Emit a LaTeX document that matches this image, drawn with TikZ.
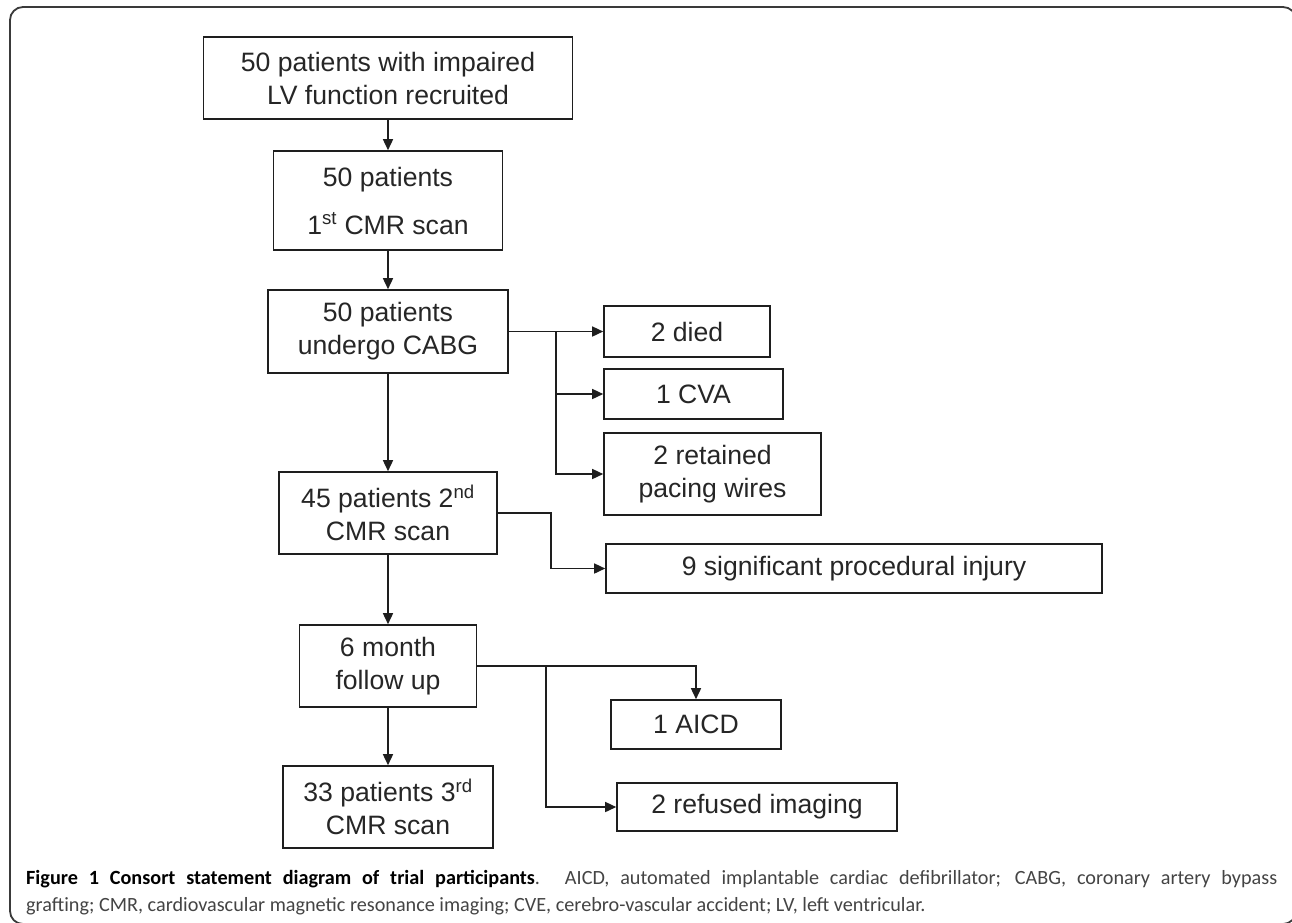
\documentclass[tikz,border=0pt]{standalone}
\usepackage{fontspec}
\setmainfont{Liberation Sans}
\newfontfamily\capfont{Carlito}
\usetikzlibrary{arrows.meta}
\definecolor{lineblk}{HTML}{1E1E1E}
\definecolor{framegray}{HTML}{3A3A3A}
\definecolor{capgray}{HTML}{444444}
\definecolor{boxtext}{HTML}{262626}
\tikzset{
  box/.style={draw=lineblk, line width=1.6pt, rectangle, inner sep=0pt, align=center,
    font=\fontsize{26.6}{33}\selectfont, text=boxtext},
  arr/.style={draw=lineblk, line width=1.5pt, -{Triangle[length=11pt,width=10pt]}},
}
\begin{document}
\begin{tikzpicture}[x=1pt,y=-1pt]
\useasboundingbox (0,0) rectangle (1292,922);
\fill[white] (0,0) rectangle (1292,922);
% outer frame
\draw[framegray, line width=1.8pt, rounded corners=13pt] (10,7) rectangle (1296,924);

% main column
\node[box, minimum width=369pt, minimum height=82pt] (b1) at (388,78) {50 patients with impaired\\LV function recruited};
\node[box, minimum width=229pt, minimum height=99pt] (b2) at (388,200.5) {50 patients\\[15pt]1\textsuperscript{st} CMR scan};
\node[box, minimum width=240pt, minimum height=83pt] (b3) at (388,331.5) {50 patients\\undergo CABG};
\node[box, minimum width=218pt, minimum height=82pt] (b4) at (388,513) {45 patients 2\textsuperscript{nd}\\CMR scan};
\node[box, minimum width=177pt, minimum height=82pt] (b5) at (388,666) {6 month\\follow up};
\node[box, minimum width=210pt, minimum height=82pt] (b6) at (388,807) {33 patients 3\textsuperscript{rd}\\CMR scan};

% side boxes
\node[box, minimum width=166pt, minimum height=51pt] (died) at (687,331.5) {2 died};
\node[box, minimum width=179pt, minimum height=50pt] (cva) at (693.5,394) {1 CVA};
\node[box, minimum width=217pt, minimum height=82pt] (ret) at (712.5,474) {2 retained\\pacing wires};
\node[box, minimum width=496pt, minimum height=49pt] (sig) at (854,568.5) {9 significant procedural injury};
\node[box, minimum width=170pt, minimum height=49pt] (aicd) at (696,724.5) {1 AICD};
\node[box, minimum width=280pt, minimum height=48pt] (ref) at (757,807) {2 refused imaging};

% trunk arrows
\draw[arr] (b1) -- (b2);
\draw[arr] (b2) -- (b3);
\draw[arr] (b3) -- (b4);
\draw[arr] (b4) -- (b5);
\draw[arr] (b5) -- (b6);

% branches after CABG
\coordinate (j1) at (556,331.5);
\draw[arr] (b3.east) -- (died.west);
\draw[arr] (j1) |- (cva.west);
\draw[arr] (j1) |- (ret.west);

% branch after 2nd scan
\coordinate (j2) at (551,540);
\draw[arr] (b4.east) -| (j2) |- (sig.west);

% branches after follow up
\coordinate (j3) at (546,666);
\draw[arr] (b5.east) -| (aicd.north);
\draw[arr] (j3) |- (ref.west);

% caption
\node[anchor=base west, inner sep=0pt, font=\capfont\fontsize{20.2}{25}\selectfont, text=capgray] (cap1) at (26,884)
  {\makebox[1251pt][s]{\textbf{\color{black}Figure 1 Consort statement diagram of trial participants}. AICD, automated implantable cardiac defibrillator; CABG, coronary artery bypass}};
\node[anchor=base west, inner sep=0pt, font=\capfont\fontsize{20.2}{25}\selectfont, text=capgray] (cap2) at (26,911)
  {grafting; CMR, cardiovascular magnetic resonance imaging; CVE, cerebro-vascular accident; LV, left ventricular.};
\end{tikzpicture}
\end{document}
